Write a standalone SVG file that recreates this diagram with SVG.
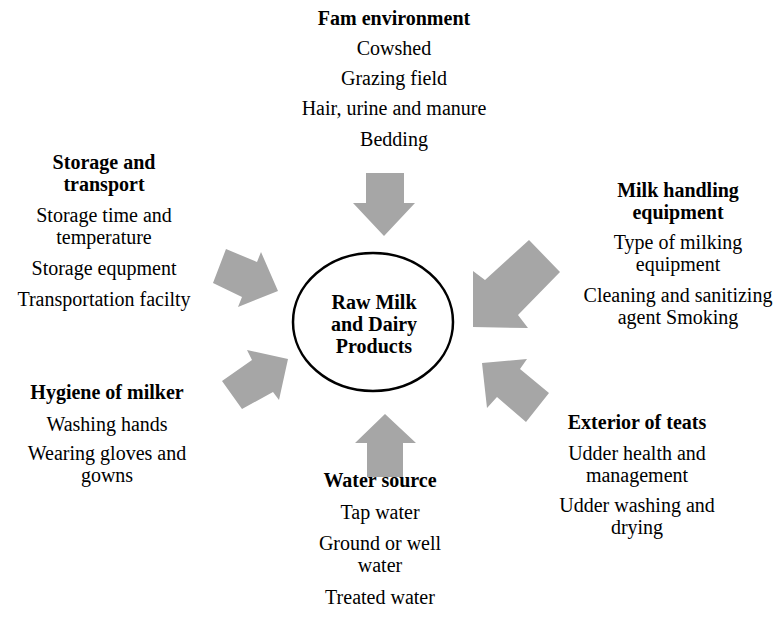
<svg xmlns="http://www.w3.org/2000/svg" width="780" height="632" viewBox="0 0 780 632">
<style>
text{font-family:'Liberation Serif','Tinos','DejaVu Serif','Noto Serif',Times,serif;font-size:20px;fill:#000;text-anchor:middle}
.b{font-weight:bold}
.arr{fill:#a6a6a6;stroke:none}
</style>
<rect width="780" height="632" fill="#fff"/>
<g id="connectors">
<polygon class="arr" points="366,173 404,173 404,203 415,203 384,236 353,203 366,203"/>
<polygon class="arr" points="529,240 560,272 518,315 528,328 473,327 473,271 485,280"/>
<polygon class="arr" points="226,249 257,262 261,252 278,291 238,307 242,297 213,283"/>
<polygon class="arr" points="222,381 252,360 247,350 288,359 279,400 273,392 242,409"/>
<polygon class="arr" points="482,363 527,359 520,369 549,393 526,422 497,397 487,408"/>
<polygon class="arr" points="385,414 416,443 403,443 403,477 367,477 367,443 355,443"/>
</g>
<g id="center">
<ellipse cx="373" cy="322" rx="80" ry="69" fill="#fff" stroke="#000" stroke-width="2.5"/>
<text class="b" x="374" y="309">Raw Milk</text>
<text class="b" x="374" y="331">and Dairy</text>
<text class="b" x="374" y="353">Products</text>
</g>
<g id="farm">
<text class="b" x="394" y="25">Fam environment</text>
<text x="394" y="55">Cowshed</text>
<text x="394" y="85">Grazing field</text>
<text x="394" y="115">Hair, urine and manure</text>
<text x="394" y="146">Bedding</text>
</g>
<g id="storage">
<text class="b" x="104" y="169">Storage and</text>
<text class="b" x="104" y="191">transport</text>
<text x="104" y="222">Storage time and</text>
<text x="104" y="244">temperature</text>
<text x="104" y="275">Storage equpment</text>
<text x="104" y="306">Transportation facilty</text>
</g>
<g id="milk-handling">
<text class="b" x="678" y="197">Milk handling</text>
<text class="b" x="678" y="219">equipment</text>
<text x="678" y="249">Type of milking</text>
<text x="678" y="271">equipment</text>
<text x="678" y="302">Cleaning and sanitizing</text>
<text x="678" y="324">agent Smoking</text>
</g>
<g id="hygiene">
<text class="b" x="107" y="399">Hygiene of milker</text>
<text x="107" y="431">Washing hands</text>
<text x="107" y="460">Wearing gloves and</text>
<text x="107" y="482">gowns</text>
</g>
<g id="exterior">
<text class="b" x="637" y="429">Exterior of teats</text>
<text x="637" y="460">Udder health and</text>
<text x="637" y="482">management</text>
<text x="637" y="512">Udder washing and</text>
<text x="637" y="534">drying</text>
</g>
<g id="water">
<text class="b" x="380" y="487">Water source</text>
<text x="380" y="519">Tap water</text>
<text x="380" y="550">Ground or well</text>
<text x="380" y="572">water</text>
<text x="380" y="604">Treated water</text>
</g>
</svg>
